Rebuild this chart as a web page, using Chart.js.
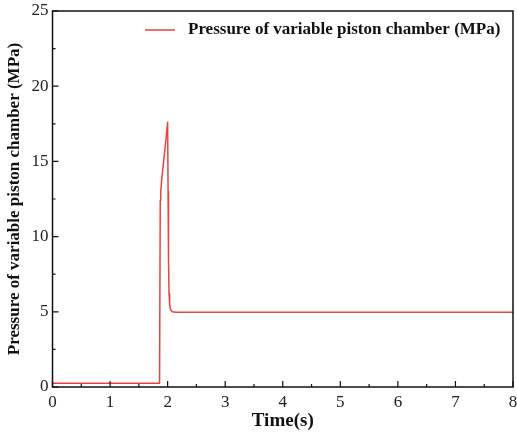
<!DOCTYPE html>
<html>
<head>
<meta charset="utf-8">
<script src="https://cdn.jsdelivr.net/npm/chart.js@4"></script>
<style>
  html, body { margin: 0; padding: 0; background: #fff; }
  #wrap { width: 517px; height: 435px; }
</style>
</head>
<body>
<div id="wrap"><canvas id="chart"></canvas></div>
<script>
const SERIES_LABEL = 'Pressure of variable piston chamber (MPa)';
const TIME = [0, 1.86, 1.872, 1.88, 1.9, 1.95, 2.0, 2.008, 2.015, 2.025, 2.035, 2.05, 2.08, 2.15, 8];
const PRESSURE = [0.25, 0.25, 12.4, 13.0, 13.9, 15.7, 17.6, 13.0, 8.5, 6.2, 5.5, 5.15, 5.0, 4.97, 4.97];
const X_MINOR = [0.5, 1.5, 2.5, 3.5, 4.5, 5.5, 6.5, 7.5];
const Y_MINOR = [2.5, 7.5, 12.5, 17.5, 22.5];

const LINE_COLOR = '#ec4042';
const FONT = "'Liberation Serif', 'Times New Roman', serif";

// frame, inward ticks and legend inside plot
const framePlugin = {
  id: 'frame',
  afterDraw(chart) {
    const { ctx, chartArea: a, scales } = chart;
    const x = scales.x, y = scales.y;
    ctx.save();
    ctx.strokeStyle = '#111';
    ctx.lineWidth = 1.5;
    ctx.strokeRect(a.left, a.top, a.right - a.left, a.bottom - a.top);

    ctx.lineWidth = 1.2;
    ctx.beginPath();
    x.ticks.forEach(t => {
      const px = x.getPixelForValue(t.value);
      ctx.moveTo(px, a.bottom); ctx.lineTo(px, a.bottom - 6);
    });
    X_MINOR.forEach(v => {
      const px = x.getPixelForValue(v);
      ctx.moveTo(px, a.bottom); ctx.lineTo(px, a.bottom - 3);
    });
    y.ticks.forEach(t => {
      const py = y.getPixelForValue(t.value);
      ctx.moveTo(a.left, py); ctx.lineTo(a.left + 6, py);
    });
    Y_MINOR.forEach(v => {
      const py = y.getPixelForValue(v);
      ctx.moveTo(a.left, py); ctx.lineTo(a.left + 3, py);
    });
    ctx.stroke();

    // legend
    const ly = a.top + 19;
    ctx.strokeStyle = LINE_COLOR;
    ctx.lineWidth = 1.5;
    ctx.beginPath();
    ctx.moveTo(145, ly); ctx.lineTo(175, ly);
    ctx.stroke();
    ctx.fillStyle = '#111';
    ctx.font = 'bold 17px ' + FONT;
    ctx.textBaseline = 'middle';
    ctx.textAlign = 'left';
    ctx.fillText(chart.data.datasets[0].label, 188, ly);
    ctx.restore();
  }
};

new Chart(document.getElementById('chart'), {
  type: 'line',
  data: {
    datasets: [{
      label: SERIES_LABEL,
      data: TIME.map((t, i) => ({ x: t, y: PRESSURE[i] })),
      borderColor: LINE_COLOR,
      borderWidth: 1.5,
      borderJoinStyle: 'round',
      pointRadius: 0,
      tension: 0,
      fill: false
    }]
  },
  options: {
    responsive: true,
    maintainAspectRatio: false,
    animation: false,
    layout: { padding: { top: 11, right: 4, left: 0, bottom: 0 } },
    plugins: { legend: { display: false }, tooltip: { enabled: false } },
    scales: {
      x: {
        type: 'linear',
        min: 0, max: 8,
        ticks: { stepSize: 1, color: '#222', font: { family: FONT, size: 17 }, padding: 5 },
        grid: { display: false, drawTicks: false },
        border: { display: false },
        title: { display: true, text: 'Time(s)', color: '#111', font: { family: FONT, size: 19, weight: 'bold' }, padding: { top: 0, bottom: 3 } },
        afterFit(s) { s.height = 48; s.paddingLeft = 0; s.paddingRight = 0; }
      },
      y: {
        min: 0, max: 25,
        ticks: { stepSize: 5, color: '#222', font: { family: FONT, size: 17 }, padding: 4 },
        grid: { display: false, drawTicks: false },
        border: { display: false },
        title: { display: true, text: SERIES_LABEL, color: '#111', font: { family: FONT, size: 17, weight: 'bold' }, padding: { bottom: 0 } },
        afterFit(s) { s.width = 52.5; s.paddingTop = 0; s.paddingBottom = 0; }
      }
    }
  },
  plugins: [framePlugin]
});
</script>
</body>
</html>
